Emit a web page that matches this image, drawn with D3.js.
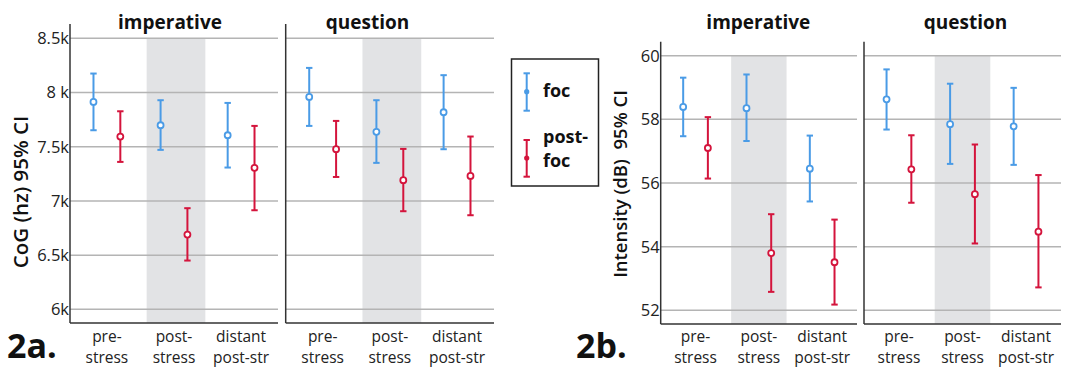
<!DOCTYPE html>
<html><head><meta charset="utf-8">
<script src="https://cdn.jsdelivr.net/npm/d3@7"></script>
<style>
body{margin:0;background:#fff;}
svg{display:block;font-family:"Open Sans",sans-serif;}
</style></head><body>
<svg id="c" width="1065" height="368"></svg>
<script>
const categories = ["pre-stress","post-stress","distant post-str"];
const catLines = [["pre-","stress"],["post-","stress"],["distant","post-str"]];
const panels = ["imperative","question"];
const seriesNames = ["foc","post-foc"];
const seriesColors = ["#4a9be6","#d4143c"];

// 2a CoG (Hz): [mean, lower, upper] per category, per panel
const cogFoc = {
  imperative: [[7913,7652,8175],[7698,7471,7929],[7606,7308,7904]],
  question:   [[7959,7692,8227],[7637,7351,7929],[7818,7477,8160]]
};
const cogPostFoc = {
  imperative: [[7594,7360,7827],[6690,6450,6933],[7305,6914,7692]],
  question:   [[7477,7221,7738],[7191,6905,7480],[7231,6868,7594]]
};
const cogTicks = [6000,6500,7000,7500,8000,8500];
const cogTickLabels = ["6k","6.5k","7k","7.5k","8 k","8.5k"];

// 2b Intensity (dB)
const intFoc = {
  imperative: [[58.39,57.47,59.31],[58.35,57.32,59.41],[56.45,55.42,57.49]],
  question:   [[58.63,57.68,59.57],[57.85,56.60,59.12],[57.78,56.57,58.99]]
};
const intPostFoc = {
  imperative: [[57.10,56.14,58.07],[53.80,52.58,55.02],[53.51,52.18,54.85]],
  question:   [[56.43,55.38,57.50],[55.65,54.10,57.21],[54.47,52.72,56.25]]
};
const intTicks = [52,54,56,58,60];
const intTickLabels = ["52","54","56","58","60"];

const svg = d3.select("#c");

function drawChart(cfg){
  const y = d3.scaleLinear().domain(cfg.domain).range([cfg.bottom, cfg.top]);
  const topGrid = d3.max(cfg.ticks);
  cfg.panelX.forEach((px, pi) => {
    const pname = panels[pi];
    const g = svg.append("g");
    const x = d3.scalePoint().domain(categories).range([px[0], px[1]]).padding(0.55);
    const step = x.step();
    const sub = d3.scalePoint().domain(seriesNames).range([-step*cfg.offFrac, step*cfg.offFrac]);
    // shaded band
    const bw = step*0.875;
    g.append("rect").attr("x", x(categories[1]) - bw/2 + cfg.bandShift).attr("y", y(topGrid))
      .attr("width", bw).attr("height", cfg.bottom - y(topGrid)).attr("fill","#e2e3e5");
    // gridlines
    g.selectAll("line.grid").data(cfg.ticks).join("line").attr("class","grid")
      .attr("x1", px[0]).attr("x2", px[1]).attr("y1", d=>y(d)).attr("y2", d=>y(d))
      .attr("stroke","#b4b4b4").attr("stroke-width",1.5);
    // axes lines
    g.append("line").attr("x1",px[0]).attr("x2",px[0]).attr("y1",cfg.top).attr("y2",cfg.bottom)
      .attr("stroke","#333").attr("stroke-width",1.5);
    g.append("line").attr("x1",px[0]).attr("x2",px[1]).attr("y1",cfg.bottom).attr("y2",cfg.bottom)
      .attr("stroke","#333").attr("stroke-width",1.5);
    // y tick labels on first panel
    if (pi === 0) {
      g.selectAll("text.yt").data(cfg.ticks).join("text").attr("class","yt")
        .attr("x", px[0]-1).attr("y", d=>y(d)).attr("dy","0.36em").attr("text-anchor","end")
        .attr("font-size",16.5).attr("fill","#222").text((d,i)=>cfg.tickLabels[i]);
    }
    // x labels (two separate lines)
    categories.forEach((c, ci) => {
      catLines[ci].forEach((ln, li) => g.append("text").attr("x", x(c)).attr("y", 341.5 + li*21.5)
        .attr("text-anchor","middle").attr("font-size",15.5).attr("fill","#222").text(ln));
    });
    // title
    g.append("text").attr("x", cfg.titleX[pi]).attr("y", 29).attr("text-anchor","middle")
      .attr("font-size",19).attr("font-weight","bold").attr("fill","#111").text(pname);
    // error bars
    [cfg.foc, cfg.post].forEach((ser, si) => {
      const col = seriesColors[si];
      ser[pname].forEach((v, ci) => {
        const cx = x(categories[ci]) + sub(seriesNames[si]);
        g.append("line").attr("x1",cx).attr("x2",cx).attr("y1",y(v[1])).attr("y2",y(v[2]))
          .attr("stroke",col).attr("stroke-width",2);
        [v[1],v[2]].forEach(e => g.append("line").attr("x1",cx-3.2).attr("x2",cx+3.2)
          .attr("y1",y(e)).attr("y2",y(e)).attr("stroke",col).attr("stroke-width",2));
        g.append("circle").attr("cx",cx).attr("cy",y(v[0])).attr("r",3)
          .attr("fill","#fff").attr("stroke",col).attr("stroke-width",1.8);
      });
    });
  });
  // y title
  svg.append("text").attr("transform",`translate(${cfg.yTitleX},${cfg.yTitleY}) rotate(-90)`)
    .attr("text-anchor","middle").attr("font-size",cfg.yTitleSize).attr("font-weight",600).attr("fill","#111")
    .attr("xml:space","preserve").style("white-space","pre")
    .text(cfg.yTitle);
  // chart label
  svg.append("text").attr("x",cfg.labelX).attr("y",358).attr("font-size",34).attr("font-weight","bold")
    .attr("fill","#111").text(cfg.label);
}

drawChart({
  domain:[5874,8632], top:24, bottom:323,
  panelX:[[70,278],[285.7,494]], offFrac:0.2, bandShift:2,
  ticks:cogTicks, tickLabels:cogTickLabels,
  foc:cogFoc, post:cogPostFoc,
  titleX:[170,367.5], yTitle:"CoG (hz) 95% CI", yTitleX:28, yTitleY:192, yTitleSize:20.5,
  label:"2a.", labelX:7
});
drawChart({
  domain:[51.57,60.44], top:41.7, bottom:324,
  panelX:[[660.7,857],[864,1061]], offFrac:0.195, bandShift:0,
  ticks:intTicks, tickLabels:intTickLabels,
  foc:intFoc, post:intPostFoc,
  titleX:[758.3,965.5], yTitle:"Intensity (dB)  95% CI", yTitleX:627, yTitleY:184, yTitleSize:18.5,
  label:"2b.", labelX:576
});

// legend
const lg = svg.append("g");
lg.append("rect").attr("x",511.5).attr("y",59).attr("width",87).attr("height",127)
  .attr("fill","#fff").attr("stroke","#222").attr("stroke-width",1.5);
const legY = [[73.3,110.7,91.7],[140,176.7,158]];
seriesNames.forEach((s, si) => {
  const col = seriesColors[si];
  const [y1,y2,ym] = legY[si];
  lg.append("line").attr("x1",526.7).attr("x2",526.7).attr("y1",y1).attr("y2",y2).attr("stroke",col).attr("stroke-width",2);
  [y1,y2].forEach(e => lg.append("line").attr("x1",523.5).attr("x2",529.9).attr("y1",e).attr("y2",e).attr("stroke",col).attr("stroke-width",2));
  lg.append("circle").attr("cx",526.7).attr("cy",ym).attr("r",2.6).attr("fill",col);
});
lg.append("text").attr("x",543).attr("y",97).attr("font-size",18).attr("font-weight","bold").attr("fill","#111").text("foc");
lg.append("text").attr("x",543).attr("y",143).attr("font-size",18).attr("font-weight","bold").attr("fill","#111").text("post-");
lg.append("text").attr("x",543).attr("y",167).attr("font-size",18).attr("font-weight","bold").attr("fill","#111").text("foc");
</script>
</body></html>
